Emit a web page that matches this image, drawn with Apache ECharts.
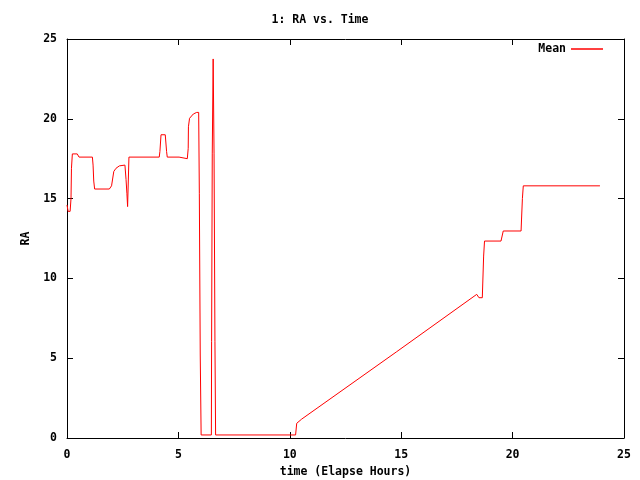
<!DOCTYPE html>
<html>
<head>
<meta charset="utf-8">
<script src="https://cdn.jsdelivr.net/npm/echarts@6/dist/echarts.min.js"></script>
<style>html,body{margin:0;padding:0;background:#fff}#c{width:640px;height:480px}</style>
</head>
<body>
<div id="c"></div>
<script>
const titleText = '1: RA vs. Time';
const xName = 'time (Elapse Hours)';
const yName = 'RA';
const seriesName = 'Mean';
const xTicks = [0, 5, 10, 15, 20, 25];
const yTicks = [0, 5, 10, 15, 20, 25];
const hours = [0.00,0.03,0.05,0.14,0.18,0.20,0.24,0.46,0.54,1.14,1.17,1.20,1.24,1.90,2.00,2.10,2.20,2.35,2.60,2.65,2.69,2.72,2.78,4.14,4.17,4.22,4.41,4.47,4.50,5.03,5.05,5.40,5.44,5.45,5.50,5.67,5.82,5.91,5.94,5.98,6.02,6.48,6.49,6.52,6.56,6.60,6.64,6.67,10.26,10.31,10.53,14.80,18.39,18.49,18.64,18.66,18.70,18.74,19.48,19.50,19.58,20.38,20.40,20.44,20.48,23.92];
const raMean = [14.6,14.6,14.2,14.2,15.0,16.9,17.8,17.8,17.6,17.6,17.1,16.1,15.6,15.6,15.8,16.7,16.9,17.05,17.1,16.2,15.3,14.5,17.6,17.6,17.95,19.0,19.0,17.95,17.6,17.6,17.5,17.5,18.15,19.5,20.03,20.3,20.4,20.4,15.3,5.2,0.19,0.19,6.03,17.8,23.75,17.8,6.03,0.19,0.19,0.92,1.18,5.41,9.0,8.79,8.79,9.65,11.4,12.34,12.34,12.47,12.97,12.97,13.66,15.0,15.8,15.8];

const font = 'DejaVu Sans Mono';
const txt = {fontFamily: font, fontSize: 11.5, fontWeight: 'bold', color: '#000'};
const chart = echarts.init(document.getElementById('c'), null, {renderer: 'canvas'});
const lineData = hours.map((h, i) => [h, raMean[i]]);
const axisCommon = {
  type: 'value', min: 0, max: 25, interval: 5,
  splitLine: {show: false},
  axisLine: {show: true, onZero: false, lineStyle: {color: '#000', width: 1}},
  axisTick: {show: true, inside: true, length: 6, lineStyle: {color: '#000'}},
};
chart.setOption({
  animation: false,
  backgroundColor: '#fff',
  title: {text: titleText, left: 'center', top: 9, textStyle: txt},
  legend: {
    data: [seriesName], right: 32, top: 38, align: 'right',
    icon: 'rect', itemWidth: 32, itemHeight: 1.5, itemGap: 8,
    textStyle: txt
  },
  grid: {left: 67, right: 16, top: 39, bottom: 42, containLabel: false, outerBoundsMode: 'none'},
  xAxis: [
    Object.assign({}, axisCommon, {
      position: 'bottom', name: xName, nameLocation: 'middle', nameGap: 28,
      nameTextStyle: txt,
      axisLabel: Object.assign({margin: 11, formatter: v => xTicks.includes(v) ? String(v) : ''}, txt)
    }),
    Object.assign({}, axisCommon, {position: 'top', axisLabel: {show: false}})
  ],
  yAxis: [
    Object.assign({}, axisCommon, {
      position: 'left', name: yName, nameLocation: 'middle', nameGap: 35, nameRotate: 90,
      nameTextStyle: txt,
      axisLabel: Object.assign({margin: 10, formatter: v => yTicks.includes(v) ? String(v) : ''}, txt)
    }),
    Object.assign({}, axisCommon, {position: 'right', axisLabel: {show: false}})
  ],
  series: [{
    name: seriesName, type: 'line', data: lineData, showSymbol: false, symbol: 'none',
    xAxisIndex: 0, yAxisIndex: 0,
    lineStyle: {color: '#ff0000', width: 1}, itemStyle: {color: '#ff0000'}
  }]
});
</script>
</body>
</html>
